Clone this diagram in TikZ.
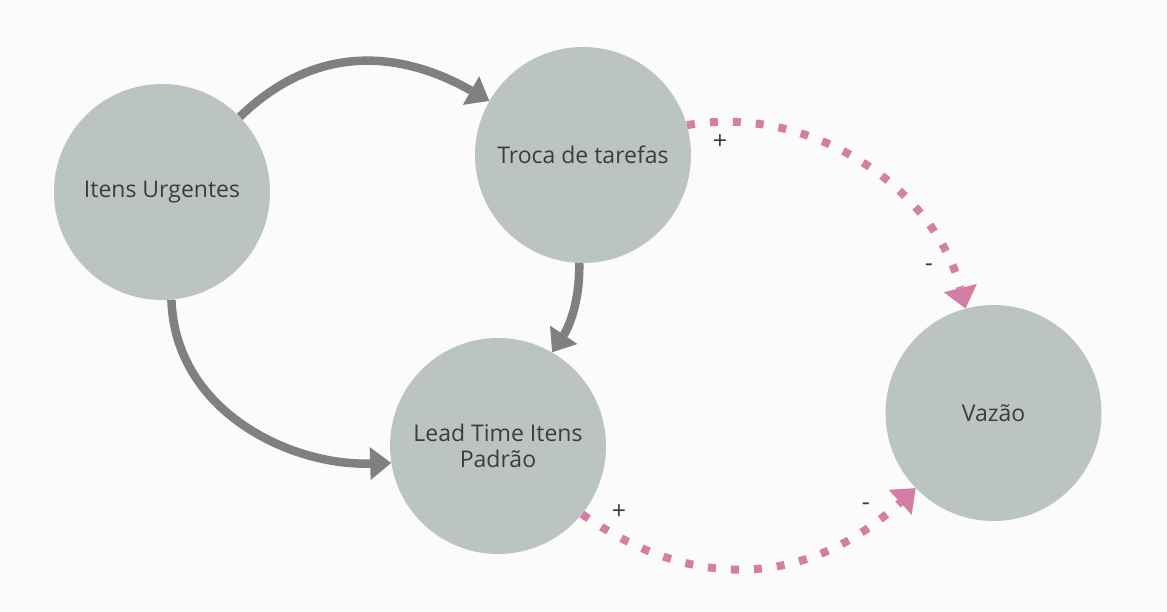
\documentclass[tikz,border=0pt]{standalone}
\usepackage{fontspec}
\setmainfont{Open Sans}
\usetikzlibrary{arrows.meta}
\definecolor{bgc}{RGB}{251,251,249}
\definecolor{nodec}{RGB}{188,196,195}
\definecolor{linec}{RGB}{128,128,128}
\definecolor{pinkc}{RGB}{211,126,164}
\definecolor{txtc}{RGB}{60,60,60}
\begin{document}
\begin{tikzpicture}[x=1pt,y=1pt,
  var/.style={circle, fill=nodec, minimum size=216pt, inner sep=0pt, text=txtc,
    font=\fontsize{23}{26}\selectfont, align=center},
  causal/.style={line width=8.5pt, draw=linec,
    -{Triangle[length=21pt,width=33pt,line width=0pt]}},
  effect/.style={line width=8pt, draw=pinkc, dash pattern=on 8pt off 15pt,
    -{Triangle[length=21pt,width=34pt,line width=0pt]}},
  sign/.style={text=txtc, font=\fontsize{25}{27}\selectfont, inner sep=0pt}]
\fill[bgc] (0,0) rectangle (1167,611);
\useasboundingbox (0,0) rectangle (1167,611);

\node[var] (iu) at (162,419) {Itens Urgentes};
\node[var] (tt) at (583,456) {Troca de tarefas};
\node[var] (lt) at (498,165) {Lead Time Itens\\Padrão};
\node[var] (vz) at (993.5,198) {Vazão};

\draw[causal] (iu.44) .. controls (319,571) and (405,558) .. (tt.150);
\draw[causal] (iu.-85) .. controls (175,200) and (290,145) .. (lt.189);
\draw[causal] (tt.-92) .. controls (580,310) and (569,284) .. (lt.60);

\draw[effect] (tt.16) .. controls (815,508) and (936,419) .. (vz.105);
\draw[effect] (lt.-39) .. controls (689,21) and (805,21) .. (vz.224);

\node[sign] (p1) at (720,469) {+};
\node[sign] (m1) at (929,343) {-};
\node[sign] (p2) at (619,99) {+};
\node[sign] (m2) at (866,104) {-};
\end{tikzpicture}
\end{document}
